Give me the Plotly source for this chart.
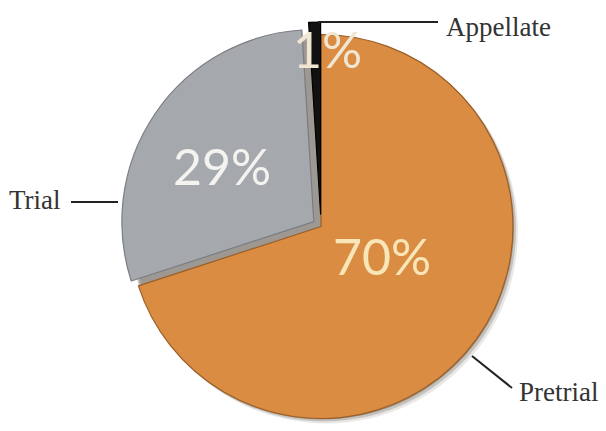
import plotly.graph_objects as go

# Share of cases by stage
stages = ["Pretrial", "Trial", "Appellate"]
shares = [70, 29, 1]
slice_colors = ["#D98C42", "#A5A8AD", "#111111"]
edge_colors = ["#9A5E26", "#7A7D82", "#000000"]
pulls = [0.0, 0.045, 0.065]
label_colors = ["#F8E6B8", "#F4F3EF", "#F1E6D2"]

W, H = 606, 431
cx, cy, r = 321.0, 226.5, 192.0


def px_x(x):
    return x / W


def px_y(y):
    return 1 - y / H


total = sum(shares)
fig = go.Figure()

# soft drop shadow: a few offset discs behind the pie
for (dx, dy, a) in [(1, 1, 0.25), (3, 3, 0.18), (5, 5, 0.10)]:
    half = r
    fig.add_trace(go.Pie(
        values=[total], labels=["shadow"], sort=False,
        marker=dict(colors=[f"rgba(40,25,10,{a})"], line=dict(width=0)),
        textinfo="none", hoverinfo="skip", showlegend=False,
        domain=dict(x=[px_x(cx + dx - half), px_x(cx + dx + half)],
                    y=[px_y(cy + dy + half), px_y(cy + dy - half)]),
    ))

half = r * (1 + max(pulls))
fig.add_trace(go.Pie(
    values=shares, labels=stages, sort=False,
    direction="clockwise", rotation=0,
    pull=pulls,
    marker=dict(colors=slice_colors, line=dict(color=edge_colors, width=1.2)),
    textinfo="none", hoverinfo="label+percent", showlegend=False,
    domain=dict(x=[px_x(cx - half), px_x(cx + half)],
                y=[max(0.0, px_y(cy + half)), px_y(cy - half)]),
))

# percentage labels inside the slices
pct_pos = {"Pretrial": (382, 256), "Trial": (222, 166), "Appellate": (327, 49)}
annotations = []
for name, v, col in zip(stages, shares, label_colors):
    x, y = pct_pos[name]
    annotations.append(dict(
        x=px_x(x), y=px_y(y), xref="paper", yref="paper",
        text=f"{v / total * 100:.0f}%", showarrow=False,
        font=dict(family="Lato", size=50, color=col),
        xanchor="center", yanchor="middle",
    ))

# stage names with leader lines
name_font = dict(family="Liberation Serif", size=27, color="#333333")
annotations += [
    dict(x=px_x(444), y=px_y(27), text="Appellate", xanchor="left"),
    dict(x=px_x(63), y=px_y(200), text="Trial", xanchor="right"),
    dict(x=px_x(517), y=px_y(392), text="Pretrial", xanchor="left"),
]
for a in annotations[-3:]:
    a.update(xref="paper", yref="paper", showarrow=False,
             yanchor="middle", font=name_font)

leaders = [((318, 22), (438, 22)), ((71, 202), (118, 202)), ((472, 356), (512, 388))]
shapes = [dict(type="line", xref="paper", yref="paper",
               x0=px_x(a[0]), y0=px_y(a[1]), x1=px_x(b[0]), y1=px_y(b[1]),
               line=dict(color="#222222", width=2))
          for a, b in leaders]

fig.update_layout(
    width=W, height=H,
    margin=dict(l=0, r=0, t=0, b=0),
    paper_bgcolor="white", plot_bgcolor="white",
    showlegend=False,
    annotations=annotations, shapes=shapes,
)

fig.write_html("out.html")
